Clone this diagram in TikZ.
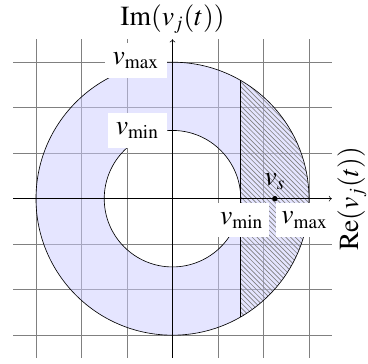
\documentclass[tikz,border=0pt]{standalone}
\usepackage{mathptmx}
\usetikzlibrary{patterns}
\begin{document}
\begin{tikzpicture}[
  lbl/.style={fill=white, inner xsep=5pt, inner ysep=6pt, font=\LARGE},
  lowlbl/.style={lbl, inner xsep=3.5pt, inner ysep=5.5pt},
  axislbl/.style={font=\LARGE},
  gridline/.style={gray, line width=0.6pt},
  ringfill/.style={blue!20, fill opacity=0.5, even odd rule},
]
\useasboundingbox (-3.791,-3.633) rectangle (4.297,4.367);
\draw[gridline] (-3.5,-3.5) grid (3.5,3.5);
\fill[ringfill] (0,0) circle (3) (0,0) circle (1.5);
\fill[pattern=north west lines, pattern color=black!50] (60:3) arc (60:-60:3) -- cycle;
\draw (0,0) circle (3);
\draw (0,0) circle (1.5);
\coordinate (segtop) at (60:3);
\coordinate (segbot) at (-60:3);
\draw (segtop) -- (segbot);
\coordinate (xs) at (-3.5,0);
\coordinate (xe) at (3.5,0);
\coordinate (ys) at (0,-3.5);
\coordinate (ye) at (0,3.5);
\draw[->] (xs) -- (xe);
\draw[->] (ys) -- (ye);
\node[axislbl, above] (im) at (ye) {$\mathrm{Im}(v_j(t))$};
\node[axislbl, rotate=90, anchor=north] (re) at (xe) {$\mathrm{Re}(v_j(t))$};
\node[lbl, anchor=east] (ymax) at (-0.12,3.04) {$v_{\max}$};
\node[lbl, anchor=east] (ymin) at (-0.12,1.5) {$v_{\min}$};
\node[lowlbl] (xmin) at (1.52,-0.47) {$v_{\min}$};
\node[lowlbl] (xmax) at (2.9,-0.47) {$v_{\max}$};
\node[circle, fill, inner sep=1.2pt] (vs) at (2.25,0) {};
\node[axislbl, above=0pt] (vslbl) at (vs.north) {$v_s$};
\end{tikzpicture}
\end{document}
